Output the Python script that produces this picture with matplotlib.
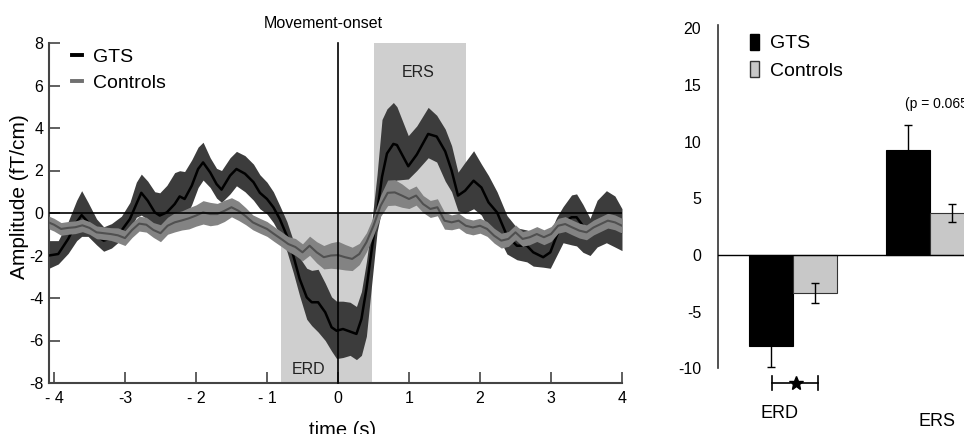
import matplotlib
matplotlib.use("Agg")
import matplotlib.pyplot as plt
import numpy as np
from matplotlib.lines import Line2D
from matplotlib.patches import Patch

plt.rcParams['font.family'] = ['Liberation Sans', 'DejaVu Sans']

# ---------------- data: time course (left panel) ----------------
t_gts = [-4.07, -3.94, -3.80, -3.68, -3.61, -3.52, -3.40, -3.30, -3.19, -3.05,
         -2.93, -2.84, -2.77, -2.68, -2.58, -2.51, -2.41, -2.30, -2.23, -2.16,
         -2.06, -1.97, -1.90, -1.80, -1.71, -1.64, -1.52, -1.43, -1.31, -1.19,
         -1.10, -1.00, -0.91, -0.82, -0.72, -0.63, -0.54, -0.44, -0.37, -0.28,
         -0.18, -0.09, -0.02, 0.07, 0.17, 0.26, 0.33, 0.40, 0.47, 0.55,
         0.62, 0.69, 0.78, 0.83, 0.99, 1.11, 1.27, 1.39, 1.51, 1.60,
         1.69, 1.79, 1.91, 2.02, 2.12, 2.24, 2.38, 2.52, 2.66, 2.75,
         2.89, 2.99, 3.08, 3.17, 3.29, 3.36, 3.45, 3.55, 3.65, 3.78,
         3.90, 4.00]
gts_mean = [-2.0, -1.93, -1.22, -0.43, -0.1, -0.43, -1.07, -1.3, -1.19, -0.83,
            -0.28, 0.42, 0.95, 0.58, 0.03, -0.12, 0.03, 0.42, 0.78, 0.66,
            1.28, 2.07, 2.38, 1.91, 1.36, 1.1, 1.76, 2.07, 1.85, 1.45,
            0.95, 0.66, 0.27, -0.28, -1.07, -2.0, -3.1, -3.97, -4.2, -4.2,
            -4.67, -5.38, -5.54, -5.46, -5.58, -5.69, -4.99, -3.58, -1.85, 0.03,
            1.7, 2.8, 3.25, 3.2, 2.2, 2.75, 3.72, 3.6, 2.9, 2.0,
            0.82, 1.05, 1.52, 1.2, 0.5, 0.03, -1.07, -1.54, -1.54, -1.85,
            -2.08, -1.85, -1.07, -0.44, -0.2, -0.2, -0.6, -0.9, -0.6, -0.2,
            -0.5, -0.9]
gts_upper = [-1.3, -1.3, -0.4, 0.6, 1.05, 0.5, -0.28, -0.65, -0.5, -0.15,
             0.5, 1.45, 1.83, 1.5, 1.0, 0.95, 1.3, 1.9, 1.99, 1.95,
             2.5, 3.1, 3.33, 2.6, 2.1, 2.0, 2.6, 2.9, 2.7, 2.3,
             1.8, 1.45, 1.0, 0.35, -0.4, -1.3, -2.1, -2.6, -2.7, -2.65,
             -3.3, -3.95, -4.15, -4.15, -4.2, -4.4, -3.7, -2.3, -0.6, 1.8,
             4.4, 4.9, 5.2, 5.0, 3.64, 4.1, 4.97, 4.6, 3.95, 3.17,
             1.92, 2.39, 2.93, 2.3, 1.76, 1.0, -0.12, -0.7, -0.8, -0.95,
             -1.1, -0.9, -0.2, 0.3, 0.85, 0.9, 0.4, -0.25, 0.6, 1.05,
             0.8, 0.2]
gts_lower = [-2.6, -2.4, -1.9, -1.3, -1.1, -1.1, -1.5, -1.8, -1.65, -1.25,
             -0.8, -0.2, -0.1, -0.3, -0.8, -0.9, -0.6, -0.3, -0.2, -0.3,
             0.4, 1.2, 1.55, 1.2, 0.7, 0.5, 0.9, 1.28, 1.0, 0.6,
             0.2, -0.05, -0.45, -1.0, -1.8, -2.8, -3.9, -5.0, -5.3, -5.6,
             -6.0, -6.5, -6.85, -6.8, -6.7, -6.9, -6.7, -5.8, -3.5, -0.9,
             0.2, 0.9, 1.5, 1.55, 1.6, 2.0, 2.6, 2.4, 1.5, 1.0,
             0.1, 0.0, 0.2, -0.1, -0.75, -1.0, -1.93, -2.2, -2.3, -2.5,
             -2.55, -2.6, -2.0, -1.4, -1.5, -1.55, -1.85, -2.0, -1.6, -1.4,
             -1.6, -1.77]

t_ctrl = [-4.07, -4.0, -3.9, -3.8, -3.7, -3.6, -3.5, -3.4, -3.3, -3.2,
          -3.1, -3.0, -2.9, -2.8, -2.7, -2.6, -2.5, -2.4, -2.3, -2.2,
          -2.1, -2.0, -1.9, -1.8, -1.7, -1.6, -1.5, -1.4, -1.3, -1.2,
          -1.1, -1.0, -0.9, -0.8, -0.7, -0.6, -0.5, -0.4, -0.3, -0.2,
          -0.1, 0.0, 0.1, 0.2, 0.3, 0.4, 0.5, 0.6, 0.7, 0.8,
          0.9, 1.0, 1.1, 1.2, 1.3, 1.4, 1.5, 1.6, 1.7, 1.8,
          1.9, 2.0, 2.1, 2.2, 2.3, 2.4, 2.5, 2.6, 2.7, 2.8,
          2.9, 3.0, 3.1, 3.2, 3.3, 3.4, 3.5, 3.6, 3.7, 3.8,
          3.9, 4.0]
ctrl_mean = [-0.45, -0.55, -0.75, -0.7, -0.67, -0.58, -0.7, -0.91, -0.95, -0.99,
             -1.05, -1.18, -0.8, -0.5, -0.55, -0.8, -0.95, -0.6, -0.44, -0.35,
             -0.25, -0.12, 0.03, -0.05, -0.05, 0.1, 0.27, 0.1, -0.15, -0.44,
             -0.6, -0.75, -0.99, -1.22, -1.46, -1.6, -1.85, -1.54, -1.85, -2.08,
             -2.0, -1.98, -2.08, -2.16, -1.93, -1.38, -0.6, 0.34, 0.95, 0.97,
             0.82, 0.66, 0.82, 0.42, 0.19, 0.27, -0.36, -0.44, -0.36, -0.6,
             -0.68, -0.6, -0.75, -1.07, -1.3, -1.22, -0.91, -1.22, -1.14, -0.99,
             -1.14, -0.99, -0.6, -0.52, -0.68, -0.83, -0.91, -0.68, -0.52, -0.36,
             -0.44, -0.6]
ctrl_sem = [0.3, 0.3, 0.3, 0.3, 0.3, 0.3, 0.3, 0.3, 0.3, 0.3,
            0.35, 0.35, 0.35, 0.35, 0.35, 0.35, 0.4, 0.4, 0.45, 0.45,
            0.5, 0.5, 0.55, 0.55, 0.5, 0.5, 0.45, 0.45, 0.4, 0.35,
            0.35, 0.35, 0.35, 0.35, 0.35, 0.4, 0.4, 0.45, 0.5, 0.55,
            0.6, 0.65, 0.6, 0.55, 0.5, 0.45, 0.45, 0.5, 0.6, 0.6,
            0.55, 0.45, 0.45, 0.4, 0.4, 0.4, 0.4, 0.35, 0.35, 0.35,
            0.35, 0.35, 0.35, 0.35, 0.35, 0.35, 0.35, 0.35, 0.35, 0.35,
            0.35, 0.35, 0.35, 0.35, 0.35, 0.35, 0.35, 0.35, 0.35, 0.35,
            0.35, 0.35]

erd_window = (-0.8, 0.48)
ers_window = (0.51, 1.8)
x_ticks = [-4, -3, -2, -1, 0, 1, 2, 3, 4]
x_ticklabels = ['- 4', '-3', '- 2', '- 1', '0', '1', '2', '3', '4']
y_ticks = [-8, -6, -4, -2, 0, 2, 4, 6, 8]

# ---------------- data: bar chart (right panel) ----------------
bar_categories = ['ERD', 'ERS']
bar_gts = [-8.0, 9.25]
bar_gts_err = [1.85, 2.2]
bar_ctrl = [-3.35, 3.7]
bar_ctrl_err = [0.85, 0.8]
bar_yticks = [-10, -5, 0, 5, 10, 15, 20]

# ---------------- figure ----------------
W, H = 964, 434
fig = plt.figure(figsize=(W / 100, H / 100), dpi=100)

ax1 = fig.add_axes([49 / W, (H - 383) / H, 573 / W, 340 / H])
ax1.set_xlim(-4.07, 4.0)
ax1.set_ylim(-8, 8)

shade = '#cfcfcf'
ax1.fill_between(list(erd_window), -8, 0, color=shade, lw=0, zorder=1)
ax1.fill_between(list(ers_window), 0, 8, color=shade, lw=0, zorder=1)

ax1.fill_between(t_gts, gts_lower, gts_upper, color='#3c3c3c', lw=0, zorder=2)
ax1.plot(t_gts, gts_mean, color='black', lw=1.8, zorder=3)
c_mean = np.array(ctrl_mean)
c_sem = np.array(ctrl_sem)
ax1.fill_between(t_ctrl, c_mean - c_sem, c_mean + c_sem, color='#838383', lw=0, zorder=4)
ax1.plot(t_ctrl, ctrl_mean, color='#505050', lw=1.5, zorder=5)

ax1.axhline(0, color='black', lw=1.2, zorder=6)
ax1.axvline(0, color='black', lw=1.2, zorder=6, clip_on=False)

ax1.text(1.13, 6.6, 'ERS', ha='center', va='center', fontsize=11.5, color='#222222', zorder=7)
ax1.text(-0.42, -7.35, 'ERD', ha='center', va='center', fontsize=11.5, color='#222222', zorder=7)

for s in ['top', 'right']:
    ax1.spines[s].set_visible(False)
for s in ['left', 'bottom']:
    ax1.spines[s].set_color('#444444')
    ax1.spines[s].set_linewidth(1.5)
ax1.set_xticks(x_ticks)
ax1.set_xticklabels(x_ticklabels)
ax1.set_yticks(y_ticks)
ax1.set_yticklabels([str(v) for v in y_ticks])
ax1.tick_params(direction='in', length=8, width=1.2, color='#444444', labelsize=11.5)
ax1.tick_params(axis='y', pad=4)
ax1.tick_params(axis='x', pad=6)

leg1 = ax1.legend(handles=[Line2D([0], [0], color='black', lw=2.8),
                           Line2D([0], [0], color='#707070', lw=2.8)],
                  labels=['GTS', 'Controls'], loc='upper left',
                  bbox_to_anchor=(0.04, 0.985), frameon=False, fontsize=14,
                  handlelength=0.5, handletextpad=0.6, labelspacing=0.45,
                  borderpad=0, borderaxespad=0)
leg1.set_zorder(8)

fig.text(323 / W, 1 - 23 / H, 'Movement-onset', ha='center', va='center', fontsize=11.5)
fig.text(20 / W, 1 - 197 / H, 'Amplitude (fT/cm)', rotation=90, ha='center', va='center', fontsize=15)
fig.text(343 / W, (H - 421) / H, 'time (s)', ha='center', va='top', fontsize=14.5)

# ---------------- right panel ----------------
ax2 = fig.add_axes([718 / W, (H - 368.3) / H, (W - 718) / W, (368.3 - 25) / H])
ax2.set_xlim(-0.547, 1.248)
ax2.set_ylim(-10, 20.3)
xpos = np.arange(len(bar_categories))
bw = 0.32
ax2.bar(xpos - bw / 2, bar_gts, bw, color='black', edgecolor='black', lw=0.8,
        yerr=bar_gts_err, error_kw=dict(ecolor='black', elinewidth=1, capsize=3, capthick=1), zorder=2)
ax2.bar(xpos + bw / 2, bar_ctrl, bw, color='#c8c8c8', edgecolor='#333333', lw=0.8,
        yerr=bar_ctrl_err, error_kw=dict(ecolor='black', elinewidth=1, capsize=3, capthick=1), zorder=2)
ax2.axhline(0, color='black', lw=1.0, zorder=3)

for s in ['top', 'right', 'bottom']:
    ax2.spines[s].set_visible(False)
ax2.spines['left'].set_color('#333333')
ax2.spines['left'].set_linewidth(1.2)
ax2.set_xticks([])
ax2.set_yticks(bar_yticks)
ax2.set_yticklabels([str(v) for v in bar_yticks])
ax2.tick_params(axis='y', length=0, pad=12, labelsize=11.5)

ax2.text(-0.095, -13.95, bar_categories[0], ha='center', va='center', fontsize=13, clip_on=False)
ax2.text(1.05, -14.7, bar_categories[1], ha='center', va='center', fontsize=13, clip_on=False)
ax2.text(0.818, 13.3, '(p = 0.065)', ha='left', va='center', fontsize=10, clip_on=False)

# significance bracket
yb = -11.3
ax2.plot([-0.153, -0.02], [yb, yb], color='black', lw=1.2, clip_on=False)
ax2.plot([0.06, 0.182], [yb, yb], color='black', lw=1.2, clip_on=False)
ax2.plot([-0.153, -0.153], [yb - 0.6, yb + 0.6], color='black', lw=1.2, clip_on=False)
ax2.plot([0.182, 0.182], [yb - 0.6, yb + 0.6], color='black', lw=1.2, clip_on=False)
ax2.plot([0.02], [yb], marker='*', color='black', markersize=10, clip_on=False)

ax2.legend(handles=[Patch(facecolor='black', edgecolor='black'),
                    Patch(facecolor='#c8c8c8', edgecolor='#333333')],
           labels=['GTS', 'Controls'], loc='upper left', bbox_to_anchor=(0.13, 0.975),
           frameon=False, fontsize=14, handlelength=0.45, handleheight=0.9,
           handletextpad=0.6, labelspacing=0.45, borderpad=0, borderaxespad=0)

fig.savefig('out.png', dpi=100)
